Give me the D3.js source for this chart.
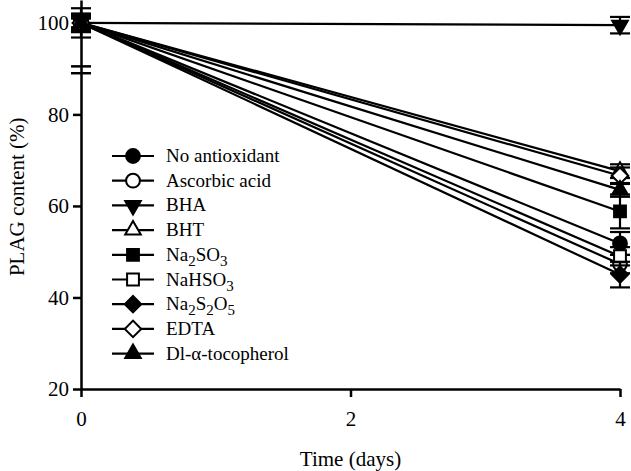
<!DOCTYPE html>
<html><head><meta charset="utf-8">
<script src="https://cdn.jsdelivr.net/npm/d3@7"></script>
<style>
html,body{margin:0;padding:0;background:#fff;}
svg{display:block;font-family:"Liberation Serif","Times New Roman",serif;}
</style></head>
<body>
<svg id="chart" width="631" height="471"></svg>
<script>
// ---- data ----
const days = [0, 4];
const seriesNames = ["No antioxidant","Ascorbic acid","BHA","BHT","Na_2SO_3","NaHSO_3","Na_2S_2O_5","EDTA","Dl-\u03b1-tocopherol"];
const symbolKinds = ["circle","circle","triangleDown","triangle","square","square","diamond","diamond","triangle"];
const symbolFilled = [true,false,true,false,true,false,true,false,true];
const noAntioxidant = [100, 51.8];
const ascorbicAcid  = [100, 47.3];
const bha           = [100, 99.5];
const bht           = [100, 67.6];
const na2so3        = [100, 58.8];
const nahso3        = [100, 49.0];
const na2s2o5       = [100, 45.0];
const edta          = [100, 66.6];
const tocopherol    = [100, 63.5];
const errNoAntioxidant = [3.2, 2.5];
const errAscorbicAcid  = [1.5, 2.0];
const errBha           = [1.5, 1.8];
const errBht           = [1.0, 1.5];
const errNa2so3        = [2.0, 3.7];
const errNahso3        = [1.5, 2.0];
const errNa2s2o5       = [2.0, 2.8];
const errEdta          = [1.0, 1.8];
const errTocopherol    = [1.5, 1.5];
const xTicks = [0, 2, 4];
const yTicks = [20, 40, 60, 80, 100];
const yBreak = [90.5, 89.0];
const xTitle = "Time (days)";
const yTitle = "PLAG content (%)";

const allValues = [noAntioxidant, ascorbicAcid, bha, bht, na2so3, nahso3, na2s2o5, edta, tocopherol];
const allErrors = [errNoAntioxidant, errAscorbicAcid, errBha, errBht, errNa2so3, errNahso3, errNa2s2o5, errEdta, errTocopherol];
const series = seriesNames.map((n, i) => ({
  name: n, kind: symbolKinds[i], filled: symbolFilled[i],
  pts: days.map((d, j) => ({x: d, y: allValues[i][j], e: allErrors[i][j]}))
}));

// ---- layout ----
const svg = d3.select("#chart");
const x = d3.scaleLinear().domain([0, 4]).range([81, 620]);
const y = d3.scaleLinear().domain([20, 105]).range([389, 0]);
const SW = 2.2;
const FONT = "'Liberation Serif','Times New Roman',serif";

function symPath(kind) {
  switch (kind) {
    case "circle": return d3.symbol(d3.symbolCircle, 150)();
    case "square": return d3.symbol(d3.symbolSquare, 140)();
    case "diamond": return d3.symbol(d3.symbolSquare, 135)();
    case "triangle": return d3.symbol(d3.symbolTriangle, 105)();
    case "triangleDown": return d3.symbol(d3.symbolTriangle, 105)();
  }
}
function symRot(kind) {
  return kind === "diamond" ? 45 : (kind === "triangleDown" ? 180 : 0);
}

// axes
const yAxis = d3.axisLeft(y).tickValues(yTicks).tickFormat(d3.format("d"))
  .tickSize(8).tickSizeOuter(0).tickPadding(4);
const gy = svg.append("g").attr("transform", `translate(${x(0)},0)`).call(yAxis);
const xAxis = d3.axisBottom(x).tickValues(xTicks).tickFormat(d3.format("d"))
  .tickSize(8).tickSizeOuter(0).tickPadding(14);
const gx = svg.append("g").attr("transform", `translate(0,${y(20)})`).call(xAxis);
[gx, gy].forEach(g => {
  g.selectAll("path.domain").attr("stroke", "#000").attr("stroke-width", 2.5);
  g.selectAll(".tick line").attr("stroke", "#000").attr("stroke-width", 2.5);
  g.selectAll(".tick text").attr("fill", "#000").style("font-size", "21px")
    .style("font-family", FONT);
});
// axis break marks
svg.append("g").selectAll("line").data(yBreak).join("line")
  .attr("x1", x(0) - 10).attr("x2", x(0) + 10)
  .attr("y1", d => y(d)).attr("y2", d => y(d))
  .attr("stroke", "#000").attr("stroke-width", 2.5);

// titles
svg.append("text").attr("x", (x(0) + x(4)) / 2).attr("y", 466)
  .attr("text-anchor", "middle").style("font-size", "21px").text(xTitle);
svg.append("text").attr("transform", `translate(24,${y(62)}) rotate(-90)`)
  .attr("text-anchor", "middle").style("font-size", "21px").text(yTitle);

// lines
const line = d3.line().x(d => x(d.x)).y(d => y(d.y));
const plot = svg.append("g");
series.forEach(s => {
  plot.append("path").attr("d", line(s.pts)).attr("fill", "none")
    .attr("stroke", "#000").attr("stroke-width", SW);
});
// error bars + markers
series.forEach(s => {
  const g = plot.append("g");
  s.pts.forEach(p => {
    g.append("line").attr("x1", x(p.x)).attr("x2", x(p.x))
      .attr("y1", y(p.y + p.e)).attr("y2", y(p.y - p.e))
      .attr("stroke", "#000").attr("stroke-width", SW);
    [p.y + p.e, p.y - p.e].forEach(v => {
      g.append("line").attr("x1", x(p.x) - 10).attr("x2", x(p.x) + 10)
        .attr("y1", y(v)).attr("y2", y(v))
        .attr("stroke", "#000").attr("stroke-width", SW);
    });
  });
  g.selectAll("path.m").data(s.pts).join("path").attr("class", "m")
    .attr("d", symPath(s.kind))
    .attr("transform", d => `translate(${x(d.x)},${y(d.y)}) rotate(${symRot(s.kind)})`)
    .attr("fill", s.filled ? "#000" : "#fff")
    .attr("stroke", "#000").attr("stroke-width", 2);
});

// legend
function addLabel(textSel, label) {
  const parts = label.split(/(_.)/).filter(p => p);
  let inSub = false;
  parts.forEach(p => {
    if (p[0] === "_") {
      textSel.append("tspan").attr("dy", inSub ? 0 : 5).style("font-size", "15px").text(p[1]);
      inSub = true;
    } else {
      textSel.append("tspan").attr("dy", inSub ? -5 : 0).text(p);
      inSub = false;
    }
  });
}
const legend = svg.append("g");
series.forEach((s, i) => {
  const cy = 156 + i * 24.7;
  const row = legend.append("g");
  row.append("line").attr("x1", 112).attr("x2", 154).attr("y1", cy).attr("y2", cy)
    .attr("stroke", "#000").attr("stroke-width", SW);
  row.append("path").attr("d", symPath(s.kind))
    .attr("transform", `translate(133,${cy}) rotate(${symRot(s.kind)})`)
    .attr("fill", s.filled ? "#000" : "#fff").attr("stroke", "#000").attr("stroke-width", 2);
  const t = row.append("text").attr("x", 166).attr("y", cy + 6).style("font-size", "19px");
  addLabel(t, s.name);
});
</script>
</body></html>
